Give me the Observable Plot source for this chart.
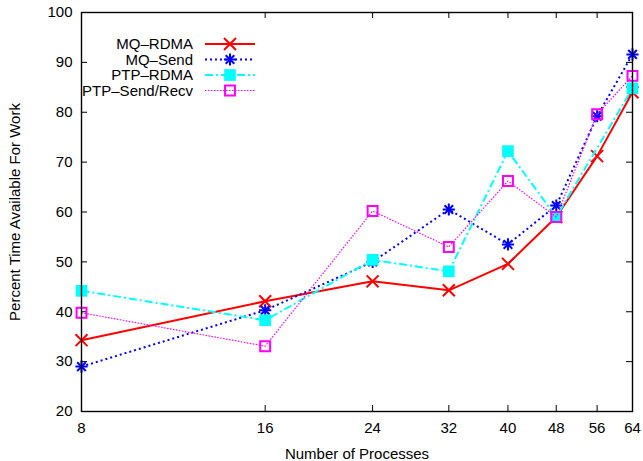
<!DOCTYPE html>
<html><head><meta charset="utf-8">
<script src="https://cdn.jsdelivr.net/npm/d3@7"></script>
<script src="https://cdn.jsdelivr.net/npm/@observablehq/plot@0.6"></script>
<style>
body{margin:0;background:#fff;}
#wrap{position:relative;width:643px;height:461px;}
#legend{position:absolute;left:0;top:0;}
</style></head><body><div id="wrap"></div>
<script>
// ---- data ----
const processes = [8, 16, 24, 32, 40, 48, 56, 64];
const mqRdma  = [34.3, 42.1, 46.1, 44.3, 49.6, 59.0, 71.2, 84.0];
const mqSend  = [29.0, 40.3, 50.0, 60.5, 53.5, 61.3, 79.2, 91.6];
const ptpRdma = [44.2, 38.3, 50.4, 48.1, 72.2, 59.0, null, 84.8];
const ptpSend = [39.8, 33.1, 60.2, 53.0, 66.2, 59.0, 79.6, 87.3];
const seriesNames = ["MQ–RDMA", "MQ–Send", "PTP–RDMA", "PTP–Send/Recv"];
const xTicks = [8, 16, 24, 32, 40, 48, 56, 64];
const yTicks = [20, 30, 40, 50, 60, 70, 80, 90, 100];
const xLabel = "Number of Processes";
const yLabel = "Percent Time Available For Work";

// ---- styles ----
const W = 643, H = 461, mL = 81, mR = 11, mT = 12, mB = 50;
const innerW = W - mL - mR, innerH = H - mT - mB, tickLen = 6;
const styles = [
  {stroke: "#ff0000", width: 2, dash: null, marks: [{symbol: "times", r: 5.5, fill: "none", stroke: "#ff0000", sw: 2}]},
  {stroke: "#0000ff", width: 2, dash: "2,3", marks: [{symbol: "plus", r: 4, fill: "none", stroke: "#0000ff", sw: 2}, {symbol: "times", r: 4, fill: "none", stroke: "#0000ff", sw: 2}]},
  {stroke: "#00ffff", width: 2, dash: "8,3,2,3", marks: [{symbol: "square", r: 6.6, fill: "#00ffff", stroke: "none", sw: 0}]},
  {stroke: "#ff00ff", width: 1.2, dash: "1.5,1.5", marks: [{symbol: "square", r: 5.6, fill: "none", stroke: "#ff00ff", sw: 2}]}
];
const values = [mqRdma, mqSend, ptpRdma, ptpSend];
const table = seriesNames.map((s, i) => processes
  .map((p, j) => ({series: s, x: p, y: values[i][j]}))
  .filter(d => d.y != null));

const seriesMarks = [];
table.forEach((rows, i) => {
  const st = styles[i];
  seriesMarks.push(Plot.line(rows, {x: "x", y: "y", stroke: st.stroke, strokeWidth: st.width, strokeDasharray: st.dash, strokeLinecap: "butt"}));
  st.marks.forEach(m => seriesMarks.push(Plot.dot(rows, {x: "x", y: "y", symbol: m.symbol, r: m.r, fill: m.fill, stroke: m.stroke, strokeWidth: m.sw})));
});

const chart = Plot.plot({
  width: W, height: H, marginLeft: mL, marginRight: mR, marginTop: mT, marginBottom: mB,
  x: {type: "log", base: 2, domain: [8, 64]},
  y: {domain: [20, 100]},
  style: {fontFamily: "'Liberation Sans', Arial, sans-serif", fontSize: "15px", color: "black", background: "white"},
  marks: [
    Plot.axisX(xTicks, {tickSize: 0, tickPadding: 11, tickFormat: d => String(d), label: xLabel, labelAnchor: "center", labelOffset: 47, labelArrow: "none", fill: "black"}),
    Plot.axisY(yTicks, {tickSize: 0, tickPadding: 9, tickFormat: d => String(d), label: yLabel, labelAnchor: "center", labelOffset: 72, labelArrow: "none", fill: "black"}),
    Plot.tickX(xTicks, {x: d => d, insetTop: innerH - tickLen, stroke: "black", strokeWidth: 1}),
    Plot.tickX(xTicks, {x: d => d, insetBottom: innerH - tickLen, stroke: "black", strokeWidth: 1}),
    Plot.tickY(yTicks, {y: d => d, insetRight: innerW - tickLen, stroke: "black", strokeWidth: 1}),
    Plot.tickY(yTicks, {y: d => d, insetLeft: innerW - tickLen, stroke: "black", strokeWidth: 1}),
    ...seriesMarks,
    Plot.frame({stroke: "black", strokeWidth: 1.4})
  ]
});
const wrap = document.getElementById("wrap");
wrap.appendChild(chart);

// ---- legend (key) ----
const lg = d3.create("svg").attr("id", "legend").attr("width", W).attr("height", 110)
  .style("font-family", "'Liberation Sans', Arial, sans-serif").style("font-size", "15px");
const rowY = [44, 59.5, 75, 90.5];
seriesNames.forEach((s, i) => {
  const st = styles[i], y = rowY[i];
  lg.append("text").attr("x", 193).attr("y", y).attr("dy", "0.35em").attr("text-anchor", "end").attr("fill", "black").text(s);
  lg.append("line").attr("x1", 205).attr("x2", 255).attr("y1", y).attr("y2", y)
    .attr("stroke", st.stroke).attr("stroke-width", st.width).attr("stroke-dasharray", st.dash);
  st.marks.forEach(m => {
    const sym = {times: d3.symbolTimes, plus: d3.symbolPlus, square: d3.symbolSquare}[m.symbol];
    lg.append("path").attr("transform", `translate(230,${y})`)
      .attr("d", d3.symbol(sym, Math.PI * m.r * m.r)())
      .attr("fill", m.fill).attr("stroke", m.stroke).attr("stroke-width", m.sw);
  });
});
wrap.appendChild(lg.node());
</script></body></html>
